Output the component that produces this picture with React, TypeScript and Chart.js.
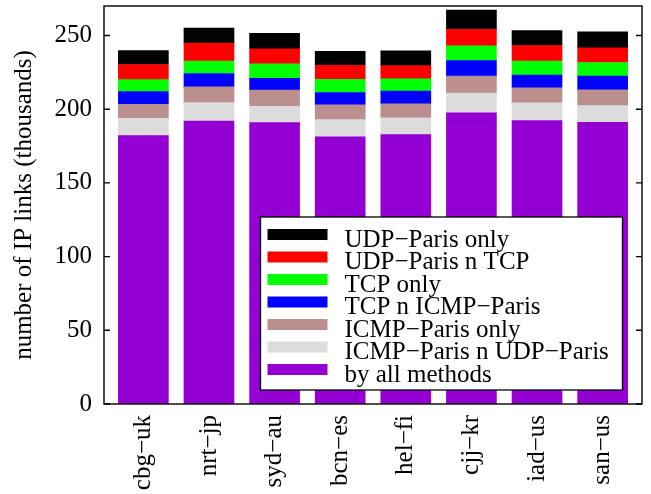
import React, { useEffect, useRef } from "react";
import { Chart, registerables } from "chart.js";

Chart.register(...registerables);

const categories = ["cbg−uk", "nrt−jp", "syd−au", "bcn−es", "hel−fi", "cjj−kr", "iad−us", "san−us"];
const yTicks = [0, 50, 100, 150, 200, 250];

const byAllMethods = [182.1, 192.0, 190.9, 181.2, 182.7, 197.5, 192.3, 191.1];
const icmpNUdp = [11.7, 12.5, 11.1, 11.7, 11.4, 13.5, 12.0, 11.3];
const icmpOnly = [9.5, 10.6, 10.9, 10.0, 9.5, 11.4, 10.2, 10.7];
const tcpNIcmp = [8.7, 9.1, 8.1, 8.4, 8.6, 10.6, 8.6, 9.3];
const tcpOnly = [8.1, 8.4, 9.8, 9.0, 8.4, 10.0, 9.5, 9.3];
const udpNTcp = [10.2, 12.2, 10.2, 9.5, 9.0, 11.1, 10.6, 9.9];
const udpOnly = [9.5, 10.2, 10.4, 9.5, 10.0, 13.1, 10.2, 10.9];

const seriesLabels = [
  "by all methods",
  "ICMP−Paris n UDP−Paris",
  "ICMP−Paris only",
  "TCP n ICMP−Paris",
  "TCP only",
  "UDP−Paris n TCP",
  "UDP−Paris only",
];
const seriesValues = [byAllMethods, icmpNUdp, icmpOnly, tcpNIcmp, tcpOnly, udpNTcp, udpOnly];
const seriesColors = ["#9400D3", "#DCDCDC", "#BC8F8F", "#0000FF", "#00FF00", "#FF0000", "#000000"];

const FONT = "'Liberation Serif', 'Times New Roman', serif";

const legendPlugin = {
  id: "boxLegend",
  afterDraw(chart: any) {
    const ctx = chart.ctx;
    const x0 = 260.5, y0 = 217, x1 = 622.5, y1 = 390;
    ctx.save();
    ctx.fillStyle = "#fff";
    ctx.fillRect(x0, y0, x1 - x0, y1 - y0);
    ctx.lineWidth = 1.3;
    ctx.strokeStyle = "#000";
    ctx.strokeRect(x0, y0, x1 - x0, y1 - y0);
    const ds = chart.data.datasets.slice().reverse();
    ctx.font = `25px ${FONT}`;
    ctx.textBaseline = "alphabetic";
    ctx.textAlign = "left";
    ds.forEach((d: any, k: number) => {
      const cy = 234.5 + k * 22.5;
      ctx.fillStyle = d.backgroundColor;
      ctx.fillRect(267.5, cy - 5.5, 60, 11);
      ctx.fillStyle = "#000";
      ctx.fillText(d.label, 344.5, cy + 12);
    });
    ctx.restore();
  },
};

const framePlugin = {
  id: "frame",
  afterDraw(chart: any) {
    const { ctx, chartArea } = chart;
    const { left, right, top, bottom } = chartArea;
    const y = chart.scales.y;
    ctx.save();
    ctx.strokeStyle = "#000";
    ctx.lineWidth = 1.4;
    ctx.strokeRect(left, top, right - left, bottom - top);
    ctx.beginPath();
    y.ticks.forEach((t: any) => {
      const py = y.getPixelForValue(t.value);
      ctx.moveTo(left, py);
      ctx.lineTo(left + 6, py);
      ctx.moveTo(right, py);
      ctx.lineTo(right - 6, py);
    });
    ctx.stroke();
    ctx.restore();
  },
};

export default function App() {
  const ref = useRef<HTMLCanvasElement>(null);
  useEffect(() => {
    if (!ref.current) return;
    Chart.defaults.font.family = FONT;
    const chart = new Chart(ref.current, {
      type: "bar",
      data: {
        datasets: seriesValues.map((vals, s) => ({
          label: seriesLabels[s],
          data: vals.map((v, i) => ({ x: i, y: v })),
          backgroundColor: seriesColors[s],
          borderWidth: 0,
          barThickness: 50,
        })),
      },
      options: {
        animation: false,
        responsive: false,
        devicePixelRatio: 1,
        layout: { padding: { top: 6, right: 9, left: 0, bottom: 0 } },
        plugins: { legend: { display: false }, tooltip: { enabled: false } },
        scales: {
          x: {
            type: "linear",
            min: -0.6,
            max: 7.6,
            offset: false,
            stacked: true,
            grid: { display: false, drawTicks: false },
            border: { display: false },
            afterBuildTicks: (s: any) => {
              s.ticks = categories.map((_, i) => ({ value: i }));
            },
            ticks: {
              autoSkip: false,
              minRotation: 90,
              maxRotation: 90,
              padding: 11,
              color: "#000",
              font: { size: 25 },
              callback: (_v: any, i: number) => categories[i] ?? "",
            },
            afterFit: (s: any) => {
              s.height = 90;
              s.paddingLeft = 0;
              s.paddingRight = 0;
            },
          },
          y: {
            min: 0,
            max: 270,
            stacked: true,
            grid: { display: false, drawTicks: false },
            border: { display: false },
            afterBuildTicks: (s: any) => {
              s.ticks = yTicks.map((v) => ({ value: v }));
            },
            ticks: { padding: 12, color: "#000", font: { size: 25 } },
            title: {
              display: true,
              text: "number of IP links (thousands)",
              color: "#000",
              font: { size: 25 },
              padding: { top: 9, bottom: 0 },
            },
            afterFit: (s: any) => {
              s.width = 104;
              s.paddingTop = 0;
              s.paddingBottom = 0;
            },
          },
        },
      } as any,
      plugins: [legendPlugin, framePlugin],
    });
    return () => chart.destroy();
  }, []);
  return (
    <div style={{ position: "fixed", left: 0, top: 0, width: 651, height: 494, background: "#fff" }}>
      <canvas ref={ref} width={651} height={494} />
    </div>
  );
}
